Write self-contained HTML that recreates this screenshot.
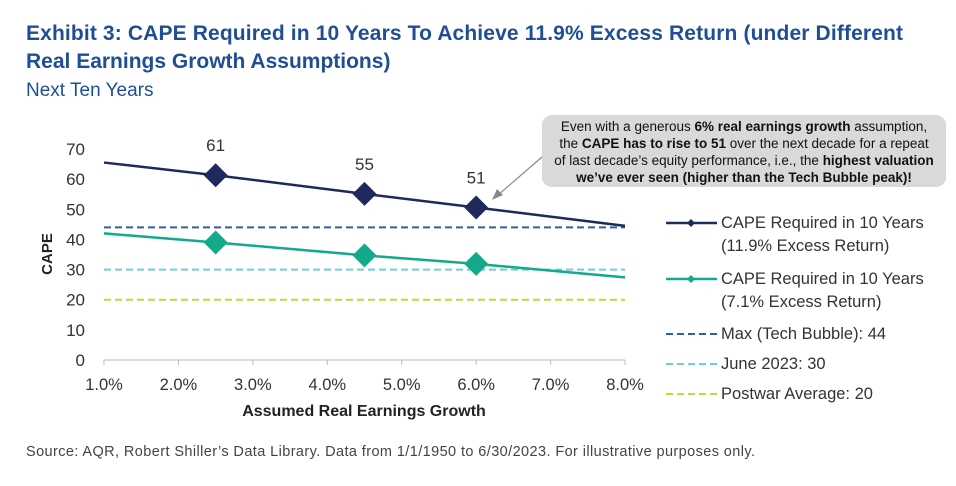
<!DOCTYPE html>
<html><head><meta charset="utf-8"><style>
body{margin:0;background:#fff;width:956px;height:481px;overflow:hidden;font-family:"Liberation Sans",sans-serif}
</style></head><body>
<svg width="956" height="481" xmlns="http://www.w3.org/2000/svg" font-family="Liberation Sans, sans-serif">
<text x="26" y="40" font-size="21" font-weight="bold" fill="#1f4e96" textLength="877">Exhibit 3: CAPE Required in 10 Years To Achieve 11.9% Excess Return (under Different</text>
<text x="26" y="68" font-size="21" font-weight="bold" fill="#1f4e96">Real Earnings Growth Assumptions)</text>
<text x="26" y="96" font-size="19" fill="#1f4e96">Next Ten Years</text>
<g id="plot"></g>
<text transform="translate(52,254) rotate(-90)" text-anchor="middle" font-size="15" font-weight="bold" fill="#222">CAPE</text>
<text x="364" y="416" text-anchor="middle" font-size="16" font-weight="bold" fill="#222">Assumed Real Earnings Growth</text>
<rect x="542" y="115" width="404" height="72" rx="10" fill="#d9d9d9"/>
<g font-size="13.5" fill="#111" text-anchor="middle">
<text x="744" y="131">Even with a generous <tspan font-weight="bold">6% real earnings growth</tspan> assumption,</text>
<text x="744" y="148">the <tspan font-weight="bold">CAPE has to rise to 51</tspan> over the next decade for a repeat</text>
<text x="744" y="165">of last decade’s equity performance, i.e., the <tspan font-weight="bold">highest valuation</tspan></text>
<text x="744" y="182" font-weight="bold">we’ve ever seen (higher than the Tech Bubble peak)!</text>
</g>
<line x1="542" y1="157" x2="498" y2="195" stroke="#888" stroke-width="1.2"/>
<polygon points="492,200 497,189 503,195" fill="#888"/>
<g font-size="16.5" fill="#333">
<g><line x1="666" y1="223" x2="717" y2="223" stroke="#1f2a5c" stroke-width="2.5"/><polygon points="691,219 695,223 691,227 687,223" fill="#1f2a5c"/><text x="721" y="228">CAPE Required in 10 Years</text><text x="721" y="251">(11.9% Excess Return)</text></g>
<g><line x1="666" y1="279" x2="717" y2="279" stroke="#14a98a" stroke-width="2.5"/><polygon points="691,275 695,279 691,283 687,279" fill="#14a98a"/><text x="721" y="284">CAPE Required in 10 Years</text><text x="721" y="307">(7.1% Excess Return)</text></g>
<g><line x1="666" y1="334" x2="717" y2="334" stroke="#2f5fa8" stroke-width="2" stroke-dasharray="7,4"/><text x="721" y="339">Max (Tech Bubble): 44</text></g>
<g><line x1="666" y1="364" x2="717" y2="364" stroke="#6fcfd8" stroke-width="2" stroke-dasharray="7,4"/><text x="721" y="369">June 2023: 30</text></g>
<g><line x1="666" y1="394" x2="717" y2="394" stroke="#c8d43a" stroke-width="2" stroke-dasharray="7,4"/><text x="721" y="399">Postwar Average: 20</text></g>
</g>
<text x="26" y="456" font-size="14.5" fill="#444" textLength="729">Source: AQR, Robert Shiller’s Data Library. Data from 1/1/1950 to 6/30/2023. For illustrative purposes only.</text>
</svg>
<script>
const xTicks=[1,2,3,4,5,6,7,8];
const yTicks=[0,10,20,30,40,50,60,70];
const growth=[1,2.5,4.5,6,8];
const cape119=[65.5,61.3,55.1,50.6,44.5];
const cape71=[42,39,34.7,31.9,27.4];
const markerX=[2.5,4.5,6];
const labels119=[61,55,51];
const refLevels=[44,30,20];
const refColors=['#2f5fa8','#6fcfd8','#c8d43a'];
const refNames=['max-tech-bubble-line','june-2023-line','postwar-average-line'];
const X=v=>104+(v-1)*(625-104)/7;
const Y=v=>360-v*(360-149)/70;
const g=document.getElementById('plot');
const NS='http://www.w3.org/2000/svg';
function mk(t,a){const e=document.createElementNS(NS,t);for(const k in a)e.setAttribute(k,a[k]);g.appendChild(e);return e;}
let e=mk('line',{x1:X(1),x2:X(8),y1:Y(0),y2:Y(0),stroke:'#bbb','stroke-width':1});


xTicks.forEach(t=>{
 let l=mk('line',{x1:X(t),x2:X(t),y1:Y(0),y2:Y(0)+5,stroke:'#bbb'});
 
 
 let s=mk('text',{x:X(t),y:390,'text-anchor':'middle','font-size':16.5,fill:'#333'});s.textContent=t.toFixed(1)+'%';
 
 
});
yTicks.forEach(t=>{
 let s=mk('text',{x:85,y:Y(t)+6,'text-anchor':'end','font-size':17,fill:'#333'});s.textContent=t;
 
 
});
refLevels.forEach((v,i)=>{
 let l=mk('line',{x1:X(1),x2:X(8),y1:Y(v),y2:Y(v),stroke:refColors[i],'stroke-width':2,'stroke-dasharray':'7,4'});
 
 
});
function series(vals,color,name){
 let p=mk('polyline',{points:growth.map((x,i)=>X(x)+','+Y(vals[i])).join(' '),fill:'none',stroke:color,'stroke-width':2.5});
 
 
 markerX.forEach(mx=>{
  const v=vals[growth.indexOf(mx)],cx=X(mx),cy=Y(v);
  let m=mk('polygon',{points:`${cx},${cy-12} ${cx+12},${cy} ${cx},${cy+12} ${cx-12},${cy}`,fill:color});
  
  
 });
}
series(cape71,'#14a98a','cape-7-1');
series(cape119,'#1f2a5c','cape-11-9');
markerX.forEach((mx,i)=>{
 let s=mk('text',{x:X(mx),y:Y(cape119[growth.indexOf(mx)])-24,'text-anchor':'middle','font-size':17,fill:'#333'});s.textContent=labels119[i];
 
 
});
</script>
</body></html>
